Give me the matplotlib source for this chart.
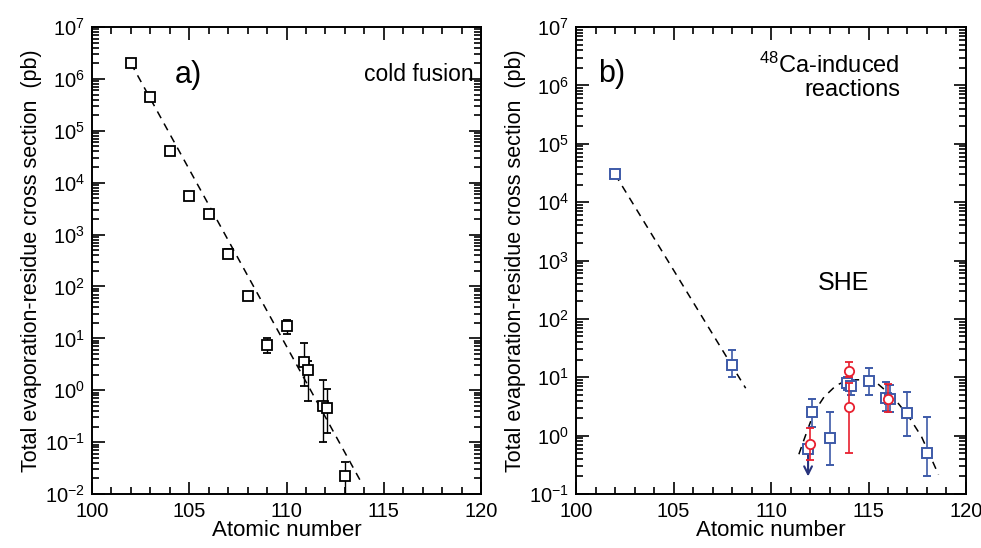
import numpy as np
import matplotlib
matplotlib.use("Agg")
import matplotlib.pyplot as plt
from matplotlib.ticker import LogLocator, MultipleLocator, NullFormatter

plt.rcParams['font.family'] = ['Liberation Sans', 'DejaVu Sans']
plt.rcParams['mathtext.default'] = 'regular'

### data, panel a) cold fusion
cold_z = [102, 103, 104, 105, 106, 107, 108, 109, 110, 110.9, 111.1, 111.9, 112.1, 113]
cold_sig = [2.0e6, 4.5e5, 4.0e4, 5.5e3, 2.5e3, 4.3e2, 65, 7.5, 17, 3.5, 2.5, 0.5, 0.45, 0.022]
cold_lo = [2.0e6, 4.5e5, 4.0e4, 4.7e3, 2.5e3, 3.6e2, 65, 5.3, 12, 1.2, 0.63, 0.1, 0.15, 0.005]
cold_hi = [2.0e6, 4.5e5, 4.0e4, 6.4e3, 2.5e3, 5.2e2, 65, 10, 23, 8.1, 3.6, 1.6, 1.05, 0.042]
cold_fit_z = [102, 113.8]
cold_fit_sig = [2.0e6, 0.018]

### data, panel b) 48Ca
ca_z = [102, 108, 111.9, 112.1, 113, 113.9, 114.1, 115, 115.9, 116.1, 117, 118]
ca_sig = [3.0e4, 16, 0.6, 2.5, 0.9, 8.0, 7.0, 8.5, 4.5, 4.3, 2.4, 0.5]
ca_lo = [3.0e4, 10, 0.6, 1.4, 0.31, 6.0, 5.0, 4.9, 2.6, 2.5, 1.0, 0.2]
ca_hi = [3.0e4, 29, 0.6, 4.2, 2.5, 10, 9.0, 14.4, 8.2, 7.5, 5.6, 2.1]

red_z = [112, 114, 114, 116]
red_sig = [0.72, 13, 3.1, 4.3]
red_lo = [0.38, 10, 0.5, 2.5]
red_hi = [1.33, 18, 8, 7.7]

ca_fit_z = [102, 108.7]
ca_fit_sig = [3.0e4, 6.5]

she_z = [111.43, 111.69, 112.21, 112.72, 113.33, 113.93, 114.97, 115.48, 116.26, 117.03, 117.72, 118.59]
she_sig = [0.48, 0.85, 2.55, 4.6, 7.2, 9.0, 9.1, 7.7, 4.6, 2.2, 0.96, 0.215]

limit_z = 111.9
limit_from = 0.48
limit_to = 0.2

blue = '#3d5aa8'
red = '#e8202f'
navy = '#28337d'


def style_axes(ax, ymin):
    ax.set_yscale('log')
    ax.set_xlim(100, 120)
    ax.set_ylim(ymin, 1e7)
    ax.xaxis.set_major_locator(MultipleLocator(5))
    ax.xaxis.set_minor_locator(MultipleLocator(1))
    ax.yaxis.set_major_locator(LogLocator(base=10, numticks=20))
    ax.yaxis.set_minor_locator(LogLocator(base=10, subs=np.arange(2, 10), numticks=20))
    ax.yaxis.set_minor_formatter(NullFormatter())
    ax.tick_params(which='both', direction='in', top=True, right=True,
                   labelsize=14.5, width=1.2)
    ax.tick_params(which='major', length=9)
    ax.tick_params(which='minor', length=5)
    ax.tick_params(axis='x', which='both', pad=6)
    ax.tick_params(axis='y', which='both', pad=5)
    for s in ax.spines.values():
        s.set_linewidth(1.4)
    ax.set_xlabel('Atomic number', fontsize=16, labelpad=-1)
    ax.set_ylabel('Total evaporation-residue cross section  (pb)', fontsize=15.5, labelpad=2)


fig = plt.figure(figsize=(9.81, 5.48), dpi=100)
ax1 = fig.add_axes([0.0938, 0.0985, 0.3965, 0.8522])
ax2 = fig.add_axes([0.5872, 0.0985, 0.3975, 0.8522])

###a)
cs = np.array(cold_sig)
ax1.plot(cold_fit_z, cold_fit_sig, ls=(0, (5, 4)), color='k', lw=1.1, zorder=1)
ax1.errorbar(cold_z, cs, yerr=[cs - np.array(cold_lo), np.array(cold_hi) - cs],
             fmt='s', ms=7.7, mfc='white', mec='k', mew=1.3, ecolor='k',
             elinewidth=1.0, capsize=3, capthick=1.0, zorder=3)
style_axes(ax1, 1e-2)
ax1.text(0.213, 0.897, 'a)', transform=ax1.transAxes, fontsize=22, va='center', ha='left')
ax1.text(0.982, 0.899, 'cold fusion', transform=ax1.transAxes, fontsize=16.5, va='center', ha='right')

###b)
ax2.plot(ca_fit_z, ca_fit_sig, ls=(0, (5, 4)), color='k', lw=1.1, zorder=1)
ax2.plot(she_z, she_sig, ls=(0, (5, 4)), color='k', lw=1.1, zorder=1)
bs = np.array(ca_sig)
ax2.errorbar(ca_z, bs, yerr=[bs - np.array(ca_lo), np.array(ca_hi) - bs],
             fmt='s', ms=7.7, mfc='white', mec=blue, mew=1.4, ecolor=blue,
             elinewidth=1.2, capsize=3, capthick=1.2, zorder=3)
rs = np.array(red_sig)
ax2.errorbar(red_z, rs, yerr=[rs - np.array(red_lo), np.array(red_hi) - rs],
             fmt='o', ms=6.7, mfc='white', mec=red, mew=1.3, ecolor=red,
             elinewidth=1.2, capsize=3, capthick=1.2, zorder=4)
ax2.annotate('', xy=(limit_z, limit_to), xytext=(limit_z, limit_from),
             arrowprops=dict(arrowstyle='->', color=navy, lw=1.5,
                             mutation_scale=14, shrinkA=0, shrinkB=0), zorder=2)
style_axes(ax2, 1e-1)
ax2.text(0.056, 0.9, 'b)', transform=ax2.transAxes, fontsize=22, va='center', ha='left')
ax2.text(0.831, 0.945, '$^{48}$Ca-induced\nreactions', transform=ax2.transAxes,
         fontsize=17, va='top', ha='right', multialignment='right', linespacing=1.05)
ax2.text(0.685, 0.452, 'SHE', transform=ax2.transAxes, fontsize=18, va='center', ha='center')

plt.savefig('out.png', dpi=100)
